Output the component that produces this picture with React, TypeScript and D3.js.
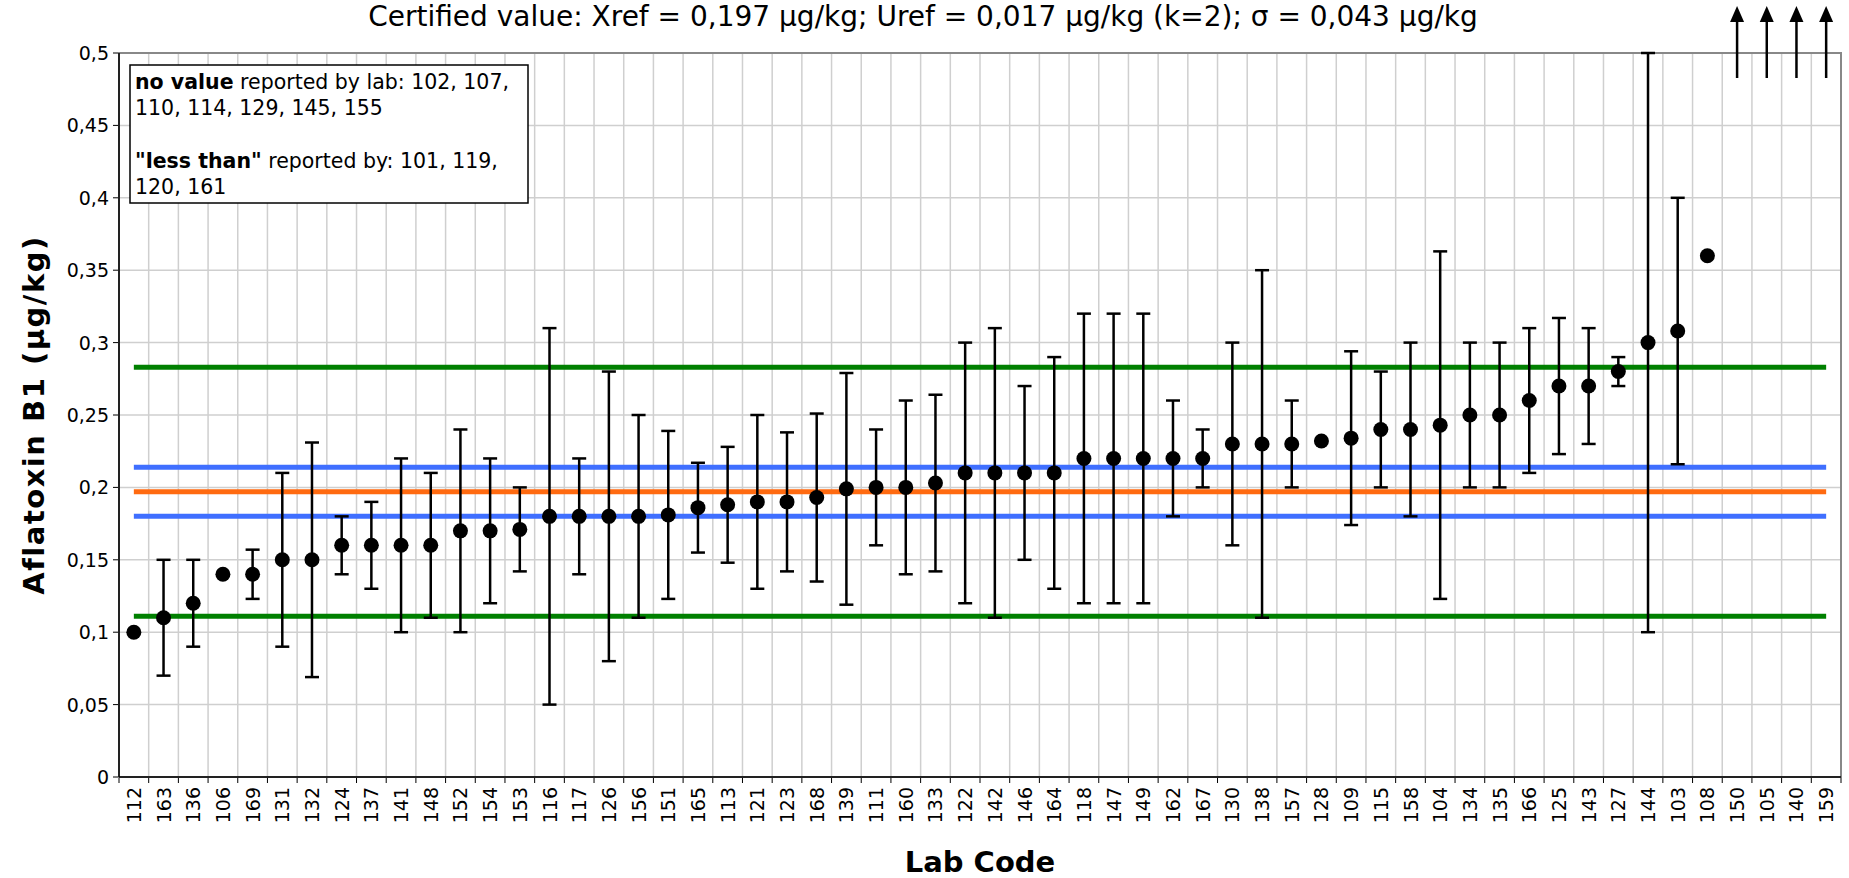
import React from "react";
import * as d3 from "d3";

const labs = ["112","163","136","106","169","131","132","124","137","141","148","152","154","153","116","117","126","156","151","165","113","121","123","168","139","111","160","133","122","142","146","164","118","147","149","162","167","130","138","157","128","109","115","158","104","134","135","166","125","143","127","144","103","108","150","105","140","159"];
// reported value, lower and upper uncertainty limit (null = none / off scale)
const values: (number | null)[] = [0.10,0.11,0.12,0.14,0.14,0.15,0.15,0.16,0.16,0.16,0.16,0.17,0.17,0.171,0.18,0.18,0.18,0.18,0.181,0.186,0.188,0.19,0.19,0.193,0.199,0.20,0.20,0.203,0.21,0.21,0.21,0.21,0.22,0.22,0.22,0.22,0.22,0.23,0.23,0.23,0.232,0.234,0.24,0.24,0.243,0.25,0.25,0.26,0.27,0.27,0.28,0.30,0.308,0.36,null,null,null,null];
const lower: (number | null)[] = [null,0.07,0.09,null,0.123,0.09,0.069,0.14,0.13,0.10,0.11,0.10,0.12,0.142,0.05,0.14,0.08,0.11,0.123,0.155,0.148,0.13,0.142,0.135,0.119,0.16,0.14,0.142,0.12,0.11,0.15,0.13,0.12,0.12,0.12,0.18,0.20,0.16,0.11,0.20,null,0.174,0.20,0.18,0.123,0.20,0.20,0.21,0.223,0.23,0.27,0.10,0.216,null,null,null,null,null];
const upper: (number | null)[] = [null,0.15,0.15,null,0.157,0.21,0.231,0.18,0.19,0.22,0.21,0.24,0.22,0.20,0.31,0.22,0.28,0.25,0.239,0.217,0.228,0.25,0.238,0.251,0.279,0.24,0.26,0.264,0.30,0.31,0.27,0.29,0.32,0.32,0.32,0.26,0.24,0.30,0.35,0.26,null,0.294,0.28,0.30,0.363,0.30,0.30,0.31,0.317,0.31,0.29,0.50,0.40,null,null,null,null,null];
const offScale = ["150","105","140","159"];
const yTicks = [0,0.05,0.1,0.15,0.2,0.25,0.3,0.35,0.4,0.45,0.5];
const refLines = [
  { v: 0.111, c: "#008000" },
  { v: 0.283, c: "#008000" },
  { v: 0.180, c: "#3f6fff" },
  { v: 0.214, c: "#3f6fff" },
  { v: 0.197, c: "#ff6a10" },
];

const W = 1849, H = 878;
const L = 119, R = 1841, T = 53, B = 777;
const font = "Verdana, 'DejaVu Sans', sans-serif";
const fmt = (v: number) => String(v).replace(".", ",");

export default function App() {
  const x = d3.scaleBand().domain(labs).range([L, R]);
  const y = d3.scaleLinear().domain([0, 0.5]).range([B, T]);
  const cx = (l: string) => x(l)! + x.bandwidth() / 2;
  const cap = 7;
  const x0 = cx(labs[0]), x1 = cx(labs[labs.length - 1]);
  return (
    <svg width={W} height={H} style={{ position: "absolute", left: 0, top: 0 }} fontFamily={font}>
      <rect width={W} height={H} fill="#fff" />
      <text x={923} y={26} textAnchor="middle" fontSize={28}>
        Certified value: Xref = 0,197 µg/kg; Uref = 0,017 µg/kg (k=2); σ = 0,043 µg/kg
      </text>
      {yTicks.map((t) => (
        <g key={t}>
          <line x1={L} x2={R} y1={y(t)} y2={y(t)} stroke="#cfcfcf" strokeWidth={1.5} />
          <line x1={L - 6} x2={L} y1={y(t)} y2={y(t)} stroke="#000" />
          <text x={L - 10} y={y(t) + 7} textAnchor="end" fontSize={19}>{fmt(t)}</text>
        </g>
      ))}
      {labs.map((l) => (
        <g key={l}>
          <line x1={x(l)! + x.bandwidth()} x2={x(l)! + x.bandwidth()} y1={T} y2={B} stroke="#cfcfcf" strokeWidth={1.5} />
          <line x1={x(l)!} x2={x(l)!} y1={B} y2={B + 6} stroke="#000" />
          <text transform={`translate(${cx(l) + 7},${B + 10}) rotate(-90)`} textAnchor="end" fontSize={19}>{l}</text>
        </g>
      ))}
      <line x1={R} x2={R} y1={B} y2={B + 6} stroke="#000" />
      <rect x={L} y={T} width={R - L} height={B - T} fill="none" stroke="#888" strokeWidth={2} />
      <line x1={L} x2={L} y1={T} y2={B} stroke="#000" strokeWidth={1.5} />
      <line x1={L} x2={R} y1={B} y2={B} stroke="#000" strokeWidth={1.5} />
      {refLines.map((r, i) => (
        <line key={i} x1={x0} x2={x1} y1={y(r.v)} y2={y(r.v)} stroke={r.c} strokeWidth={5} />
      ))}
      {labs.map((l, i) => {
        const v = values[i];
        if (v === null) return null;
        const lo = lower[i], hi = upper[i];
        const c = cx(l);
        return (
          <g key={l} stroke="#000" strokeWidth={2.5}>
            {lo !== null && hi !== null && (
              <>
                <line x1={c} x2={c} y1={y(lo)} y2={y(hi)} />
                <line x1={c - cap} x2={c + cap} y1={y(lo)} y2={y(lo)} />
                <line x1={c - cap} x2={c + cap} y1={y(hi)} y2={y(hi)} />
              </>
            )}
            <circle cx={c} cy={y(v)} r={7.5} fill="#000" stroke="none" />
          </g>
        );
      })}
      {offScale.map((l) => (
        <g key={l}>
          <line x1={cx(l)} x2={cx(l)} y1={78} y2={20} stroke="#000" strokeWidth={2.5} />
          <path d={`M${cx(l) - 7},${22} L${cx(l)},${6} L${cx(l) + 7},${22} Z`} fill="#000" />
        </g>
      ))}
      <rect x={130} y={65} width={398} height={138} fill="#fff" stroke="#000" strokeWidth={1.5} />
      <g fontSize={20.5}>
        <text x={135} y={89}><tspan fontWeight="bold">no value</tspan> reported by lab: 102, 107,</text>
        <text x={135} y={115}>110, 114, 129, 145, 155</text>
        <text x={135} y={168}><tspan fontWeight="bold">"less than"</tspan> reported by: 101, 119,</text>
        <text x={135} y={194}>120, 161</text>
      </g>
      <text transform={`translate(44,${(T + B) / 2}) rotate(-90)`} textAnchor="middle" fontSize={29} fontWeight="bold" letterSpacing={1.5}>Aflatoxin B1 (µg/kg)</text>
      <text x={(L + R) / 2} y={872} textAnchor="middle" fontSize={29} fontWeight="bold">Lab Code</text>
    </svg>
  );
}
